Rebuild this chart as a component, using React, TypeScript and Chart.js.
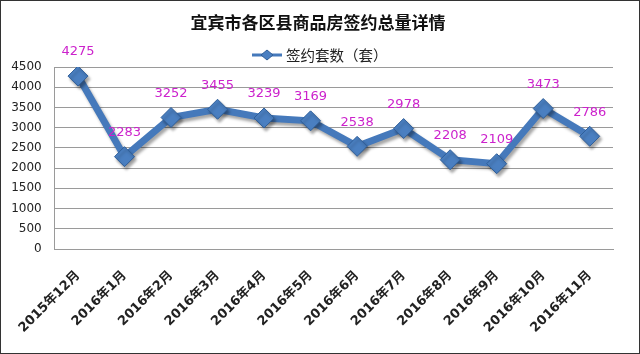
import React, { useEffect, useRef } from "react";
import { Chart, registerables } from "chart.js";

Chart.register(...registerables);

const titleText = "宜宾市各区县商品房签约总量详情";
const seriesName = "签约套数（套）";
const categories = [
  "2015年12月",
  "2016年1月",
  "2016年2月",
  "2016年3月",
  "2016年4月",
  "2016年5月",
  "2016年6月",
  "2016年7月",
  "2016年8月",
  "2016年9月",
  "2016年10月",
  "2016年11月",
];
const values = [4275, 2283, 3252, 3455, 3239, 3169, 2538, 2978, 2208, 2109, 3473, 2786];
const yMin = 0;
const yMax = 4500;
const yStep = 500;

const LINE_COLOR = "#4579BB";
const POINT_FILL = "#4A7FC1";
const POINT_BORDER = "#2F5E98";
const LABEL_COLOR = "#CC22CC";
const GRID_COLOR = "#9A9A9A";
const CJK = '"DejaVu Sans", "Noto Sans CJK SC", sans-serif';

const shadowPlugin = {
  id: "shadowPlugin",
  beforeDatasetsDraw(chart: any) {
    const ctx = chart.ctx;
    ctx.save();
    ctx.shadowColor = "rgba(0,0,0,0.35)";
    ctx.shadowBlur = 3;
    ctx.shadowOffsetX = 2;
    ctx.shadowOffsetY = 3;
  },
  afterDatasetsDraw(chart: any) {
    chart.ctx.restore();
  },
};

const valueLabelPlugin = {
  id: "valueLabelPlugin",
  afterDatasetsDraw(chart: any) {
    const ctx = chart.ctx;
    const meta = chart.getDatasetMeta(0);
    const data = chart.data.datasets[0].data as number[];
    ctx.save();
    ctx.font = '13px "DejaVu Sans", sans-serif';
    ctx.fillStyle = LABEL_COLOR;
    ctx.textAlign = "center";
    ctx.textBaseline = "middle";
    meta.data.forEach((pt: any, i: number) => {
      ctx.fillText(String(data[i]), pt.x, pt.y - 24);
    });
    ctx.restore();
  },
};

const headerPlugin = {
  id: "headerPlugin",
  afterDraw(chart: any) {
    const ctx = chart.ctx;
    ctx.save();
    // title
    ctx.font = 'bold 17px "Noto Sans CJK SC", sans-serif';
    ctx.fillStyle = "#111";
    ctx.textAlign = "center";
    ctx.textBaseline = "middle";
    ctx.fillText(titleText, 318, 23);
    // legend
    const ly = 55;
    ctx.strokeStyle = LINE_COLOR;
    ctx.lineWidth = 3;
    ctx.beginPath();
    ctx.moveTo(252, ly);
    ctx.lineTo(282, ly);
    ctx.stroke();
    ctx.fillStyle = POINT_FILL;
    ctx.strokeStyle = POINT_BORDER;
    ctx.lineWidth = 1;
    ctx.beginPath();
    ctx.moveTo(267, ly - 5);
    ctx.lineTo(273, ly);
    ctx.lineTo(267, ly + 5);
    ctx.lineTo(261, ly);
    ctx.closePath();
    ctx.fill();
    ctx.stroke();
    ctx.font = '14.5px "Noto Sans CJK SC", sans-serif';
    ctx.fillStyle = "#222";
    ctx.textAlign = "left";
    ctx.fillText(seriesName, 286, ly);
    // outer border
    ctx.strokeStyle = "#333";
    ctx.lineWidth = 1;
    ctx.strokeRect(0.5, 0.5, chart.width - 1, chart.height - 1);
    ctx.restore();
  },
};

export default function App() {
  const canvasRef = useRef<HTMLCanvasElement | null>(null);

  useEffect(() => {
    document.body.style.margin = "0";
    const canvas = canvasRef.current;
    if (!canvas) return;
    const chart = new Chart(canvas, {
      type: "line",
      data: {
        labels: categories,
        datasets: [
          {
            label: seriesName,
            data: values,
            borderColor: LINE_COLOR,
            borderWidth: 7,
            backgroundColor: POINT_FILL,
            pointStyle: "rectRot",
            pointRadius: 10,
            pointHoverRadius: 10,
            pointBackgroundColor: POINT_FILL,
            pointBorderColor: POINT_BORDER,
            pointBorderWidth: 1,
            tension: 0,
            fill: false,
          },
        ],
      },
      options: {
        responsive: false,
        animation: false,
        layout: { padding: { top: 67, right: 27, bottom: 0, left: 0 } },
        plugins: {
          legend: { display: false },
          title: { display: false },
          tooltip: { enabled: false },
        },
        scales: {
          x: {
            type: "category",
            offset: true,
            grid: { display: false, drawTicks: false },
            border: { display: true, color: GRID_COLOR },
            ticks: {
              autoSkip: false,
              maxRotation: 45,
              minRotation: 45,
              padding: 19,
              color: "#222",
              font: { family: CJK, size: 13, weight: "bold" },
            },
            afterFit: (scale: any) => {
              scale.height = 105;
            },
          },
          y: {
            min: yMin,
            max: yMax,
            grid: { color: GRID_COLOR, drawTicks: false },
            border: { display: true, color: GRID_COLOR },
            ticks: {
              stepSize: yStep,
              padding: 13,
              color: "#222",
              font: { family: '"DejaVu Sans", sans-serif', size: 12 },
              callback: (v: any) => String(v),
            },
            afterFit: (scale: any) => {
              scale.width = 53;
            },
          },
        },
      },
      plugins: [shadowPlugin, valueLabelPlugin, headerPlugin],
    });
    return () => chart.destroy();
  }, []);

  return (
    <div style={{ width: 640, height: 354, background: "#fff" }}>
      <canvas ref={canvasRef} width={640} height={354} />
    </div>
  );
}
